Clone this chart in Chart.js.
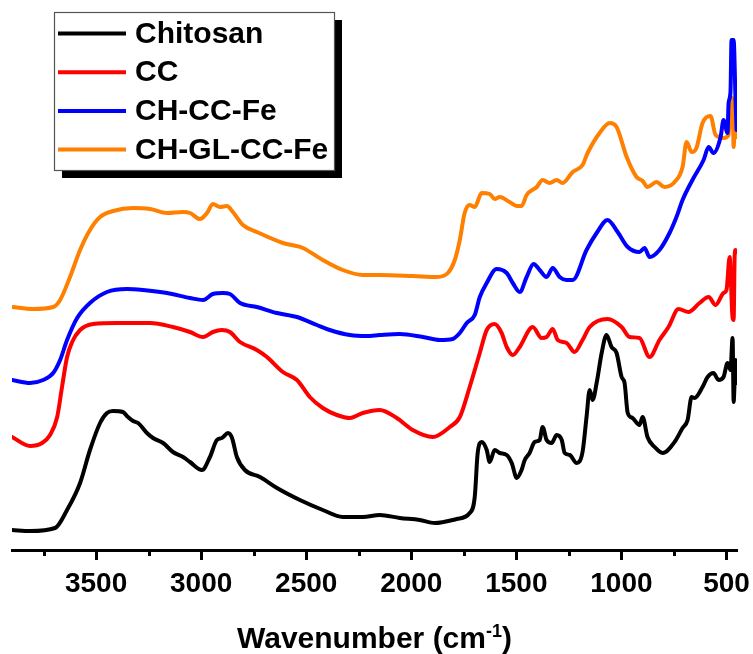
<!DOCTYPE html>
<html>
<head>
<meta charset="utf-8">
<title>FTIR spectra</title>
<script src="https://cdn.jsdelivr.net/npm/chart.js@4.4.1/dist/chart.umd.min.js"></script>
<style>
  html, body { margin: 0; padding: 0; background: #ffffff; }
  canvas { display: block; }
</style>
</head>
<body>
<canvas id="ftir" width="753" height="654"></canvas>
<script>
// Spectra: wavenumber (cm-1) and offset intensity (a.u.)
const wnChitosan = [3900,3814,3695,3638,3576,3529,3481,3448,3419,3372,3348,3324,3300,3258,3229,3181,3134,3086,3053,2996,2958,2925,2901,2872,2853,2830,2792,2720,2639,2530,2421,2326,2231,2150,2055,1960,1888,1784,1722,1698,1684,1665,1641,1627,1603,1579,1546,1522,1498,1475,1460,1437,1413,1389,1375,1356,1332,1308,1284,1270,1246,1213,1185,1166,1151,1137,1118,1094,1071,1047,1023,999,985,970,947,914,899,876,842,804,747,709,685,666,652,614,590,562,538,514,495,481,471,466,457,452];
const yChitosan  = [20,19,22,40,67,100,127,137,139,138,133,129,127,117,112,107,98,93,88,80,93,110,112,117,112,93,80,73,62,50,40,33,33,35,32,30,27,31,37,53,97,108,100,88,100,97,95,87,72,80,90,97,108,110,123,110,107,115,110,97,95,87,98,133,160,150,167,197,215,203,197,173,167,137,132,125,133,113,103,97,108,122,130,153,152,163,173,177,170,173,187,180,212,148,190,167];

const wnCC = [3900,3814,3757,3719,3685,3662,3638,3614,3576,3514,3400,3243,3134,3053,2991,2944,2901,2863,2815,2735,2687,2611,2544,2483,2421,2354,2292,2231,2150,2069,1993,1898,1817,1769,1722,1674,1641,1603,1570,1546,1517,1484,1422,1380,1356,1327,1303,1261,1223,1185,1151,1066,999,961,914,866,819,776,728,681,628,585,552,514,500,485,471,466,461,457,452];
const yCC  = [113,104,107,115,133,163,193,208,220,226,227,227,223,218,213,218,220,218,208,200,193,178,170,153,142,135,132,137,140,132,120,113,123,133,163,197,220,226,217,203,195,203,223,212,213,221,210,207,198,210,223,231,223,213,212,193,210,223,241,238,247,253,245,257,260,293,232,230,295,300,298];

const wnCHCCFe = [3900,3814,3752,3704,3671,3638,3590,3529,3448,3353,3277,3162,3053,2991,2944,2896,2863,2815,2735,2639,2544,2449,2388,2292,2212,2150,2055,1945,1864,1803,1769,1736,1698,1674,1641,1594,1546,1517,1484,1451,1418,1389,1356,1327,1294,1261,1232,1166,1118,1066,1018,970,914,890,866,819,771,738,709,662,609,585,562,528,514,495,490,481,476,466,457,452];
const yCHCCFe  = [170,167,170,177,190,210,232,247,258,261,260,257,252,250,256,257,256,247,243,237,233,225,220,215,214,215,216,213,210,211,217,227,235,253,267,281,277,267,258,273,286,280,273,282,273,270,270,300,317,330,318,303,298,302,293,300,317,333,350,370,390,403,397,413,430,417,447,458,510,510,450,420];

const wnCHGLCCFe = [3900,3800,3704,3671,3624,3576,3529,3481,3419,3324,3243,3162,3086,3053,3006,2972,2944,2910,2877,2849,2801,2735,2611,2516,2421,2326,2231,2150,1993,1879,1826,1793,1769,1746,1722,1698,1665,1627,1603,1579,1532,1498,1475,1451,1403,1375,1342,1308,1280,1232,1185,1161,1104,1056,1023,975,928,899,876,833,795,747,709,690,666,643,614,576,552,514,490,481,471,466,457,452];
const yCHGLCCFe  = [243,241,243,250,273,300,320,333,339,342,341,337,338,337,331,337,346,343,344,338,325,318,307,302,290,280,275,275,274,273,277,290,310,337,345,343,357,356,351,353,348,344,344,355,363,370,367,370,367,378,385,397,417,427,423,393,373,369,363,368,363,368,383,408,398,402,427,434,415,412,415,453,450,403,445,413];

const seriesNames  = ['Chitosan', 'CC', 'CH-CC-Fe', 'CH-GL-CC-Fe'];
const seriesColors = ['#000000', '#ff0000', '#0000ff', '#ff7f00'];
const majorTicks = [3500, 3000, 2500, 2000, 1500, 1000, 500];
const minorTicks = [3750, 3250, 2750, 2250, 1750, 1250, 750];

const FONT = '"Liberation Sans", Arial, Helvetica, sans-serif';

function pairs(xs, ys) { return xs.map((x, i) => ({ x: x, y: ys[i] })); }

const spectra = [
  pairs(wnChitosan, yChitosan),
  pairs(wnCC, yCC),
  pairs(wnCHCCFe, yCHCCFe),
  pairs(wnCHGLCCFe, yCHGLCCFe)
];

// Minor tick marks between the labelled ones
const minorTickPlugin = {
  id: 'minorTicks',
  afterDraw(chart) {
    const ctx = chart.ctx;
    const xs = chart.scales.x;
    ctx.save();
    ctx.strokeStyle = '#000';
    ctx.lineWidth = 3;
    minorTicks.forEach(v => {
      const px = Math.round(xs.getPixelForValue(v)) + 0.5;
      ctx.beginPath();
      ctx.moveTo(px, xs.top);
      ctx.lineTo(px, xs.top + 6);
      ctx.stroke();
    });
    ctx.restore();
  }
};

// Axis title with a superscript exponent
const axisTitlePlugin = {
  id: 'axisTitle',
  afterDraw(chart) {
    const ctx = chart.ctx;
    const area = chart.chartArea;
    const main = 'Wavenumber (cm';
    const sup = '-1';
    const close = ')';
    ctx.save();
    ctx.fillStyle = '#000';
    ctx.textBaseline = 'alphabetic';
    ctx.font = 'bold 30px ' + FONT;
    const w1 = ctx.measureText(main).width;
    const w3 = ctx.measureText(close).width;
    ctx.font = 'bold 18px ' + FONT;
    const w2 = ctx.measureText(sup).width;
    let x = (area.left + area.right) / 2 - (w1 + w2 + w3) / 2;
    const base = 648;
    ctx.font = 'bold 30px ' + FONT;
    ctx.fillText(main, x, base);
    x += w1;
    ctx.font = 'bold 18px ' + FONT;
    ctx.fillText(sup, x, base - 11);
    x += w2;
    ctx.font = 'bold 30px ' + FONT;
    ctx.fillText(close, x, base);
    ctx.restore();
  }
};

// Framed legend with a drop shadow
const boxLegendPlugin = {
  id: 'boxLegend',
  afterDraw(chart) {
    const ctx = chart.ctx;
    const left = 54, top = 12, w = 280, h = 158;
    ctx.save();
    ctx.fillStyle = '#000';
    ctx.fillRect(left + 8, top + 8, w, h);
    ctx.fillStyle = '#fff';
    ctx.fillRect(left, top, w, h);
    ctx.strokeStyle = '#555';
    ctx.lineWidth = 1.2;
    ctx.strokeRect(left + 0.5, top + 0.5, w, h);
    ctx.font = 'bold 30px ' + FONT;
    ctx.textBaseline = 'middle';
    chart.data.datasets.forEach((ds, i) => {
      const y = 33.5 + i * 38.7;
      ctx.strokeStyle = ds.borderColor;
      ctx.lineWidth = 4;
      ctx.beginPath();
      ctx.moveTo(58, y);
      ctx.lineTo(126, y);
      ctx.stroke();
      ctx.fillStyle = '#000';
      ctx.fillText(ds.label, 135, y + 1);
    });
    ctx.restore();
  }
};

new Chart(document.getElementById('ftir'), {
  type: 'line',
  data: {
    datasets: spectra.map((pts, i) => ({
      label: seriesNames[i],
      data: pts,
      borderColor: seriesColors[i],
      backgroundColor: seriesColors[i],
      borderWidth: 4,
      pointRadius: 0,
      fill: false,
      cubicInterpolationMode: 'monotone',
      borderJoinStyle: 'round',
      borderCapStyle: 'round'
    }))
  },
  options: {
    responsive: false,
    animation: false,
    devicePixelRatio: 1,
    layout: { padding: { left: 12, right: 16, top: 10, bottom: 44 } },
    plugins: {
      legend: { display: false },
      tooltip: { enabled: false }
    },
    scales: {
      x: {
        type: 'linear',
        min: 450,
        max: 3900,
        reverse: true,
        afterBuildTicks(scale) {
          scale.ticks = majorTicks.map(v => ({ value: v }));
        },
        afterFit(scale) {
          scale.height = 60;
          scale.paddingLeft = 0;
          scale.paddingRight = 0;
        },
        border: { display: true, color: '#000', width: 3 },
        grid: {
          drawOnChartArea: false,
          drawTicks: true,
          tickLength: 10,
          tickWidth: 3,
          tickColor: '#000'
        },
        ticks: {
          autoSkip: false,
          maxRotation: 0,
          padding: 7,
          color: '#000',
          font: { family: FONT, size: 28, weight: 'bold' },
          callback: v => String(v)
        }
      },
      y: {
        display: false,
        min: 0,
        max: 540
      }
    }
  },
  plugins: [minorTickPlugin, axisTitlePlugin, boxLegendPlugin]
});
</script>
</body>
</html>
